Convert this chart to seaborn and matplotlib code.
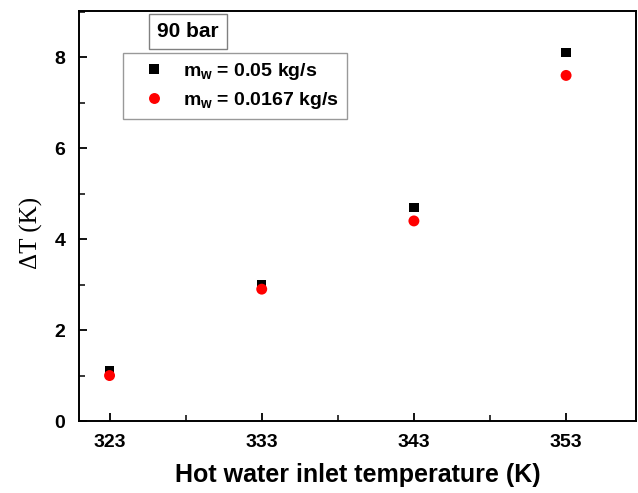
import matplotlib
matplotlib.use("Agg")
import matplotlib.pyplot as plt
import seaborn as sns
import pandas as pd
from matplotlib.ticker import MultipleLocator, FixedLocator

temps = [323, 333, 343, 353]
dT_005 = [1.1, 3.0, 4.7, 8.1]
dT_00167 = [1.0, 2.9, 4.4, 7.6]
labels = [r"$m_w$ = 0.05 kg/s", r"$m_w$ = 0.0167 kg/s"]
xticks = [323, 333, 343, 353]
yticks = [0, 2, 4, 6, 8]

sns.set_theme(style="white")
plt.rcParams['font.family'] = ['Liberation Sans', 'DejaVu Sans']
plt.rcParams['font.weight'] = 'bold'
plt.rcParams['text.color'] = 'black'
plt.rcParams['axes.labelcolor'] = 'black'
plt.rcParams['xtick.color'] = 'black'
plt.rcParams['ytick.color'] = 'black'
plt.rcParams['mathtext.fontset'] = 'custom'
plt.rcParams['mathtext.rm'] = 'Liberation Sans:bold'
plt.rcParams['mathtext.it'] = 'Liberation Sans:bold'
plt.rcParams['mathtext.bf'] = 'Liberation Sans:bold'

df = pd.DataFrame({
    "T": temps + temps,
    "dT": dT_005 + dT_00167,
    "series": [labels[0]] * len(temps) + [labels[1]] * len(temps),
})

fig = plt.figure(figsize=(6.38, 4.93), dpi=100)
ax = fig.add_axes([0.124, 0.146, 0.873, 0.832])

sns.scatterplot(data=df, x="T", y="dT", hue="series", style="series", size="series",
                palette={labels[0]: "black", labels[1]: "#ff0000"},
                markers={labels[0]: "s", labels[1]: "o"},
                sizes={labels[0]: 44, labels[1]: 62},
                linewidth=0, ax=ax, legend=True)

ax.set_xlim(321, 357.6)
ax.set_ylim(0, 9.02)
ax.set_xticks(xticks)
ax.set_yticks(yticks)
ax.xaxis.set_minor_locator(FixedLocator([328, 338, 348]))
ax.yaxis.set_minor_locator(MultipleLocator(1))
ax.tick_params(which='major', direction='in', length=6, width=1.3, labelsize=14, pad=9)
ax.tick_params(axis='y', which='major', pad=10)
ax.tick_params(which='minor', direction='in', length=4, width=1.1)
ax.tick_params(top=False, right=False, bottom=True, left=True, which='both')
for lab in ax.get_xticklabels() + ax.get_yticklabels():
    lab.set_fontweight('bold')
for sp in ax.spines.values():
    sp.set_linewidth(1.4)
    sp.set_color('black')

ax.set_xlabel("Hot water inlet temperature (K)", fontsize=18, fontweight='bold', labelpad=9)
ax.set_ylabel("ΔT (K)", fontsize=18, fontweight='normal',
              family=['Liberation Serif', 'DejaVu Serif'])
ax.yaxis.set_label_coords(-0.064, 0.459)

leg = ax.legend(loc='upper left', bbox_to_anchor=(0.079, 0.898), borderaxespad=0,
                fontsize=14, frameon=True, fancybox=False, edgecolor='#808080',
                handlelength=2.3, handletextpad=0.35, borderpad=0.42, labelspacing=0.42)
leg.get_frame().set_linewidth(1.0)
for t in leg.get_texts():
    t.set_fontweight('bold')

ax.text(0.195, 0.95, "90 bar", transform=ax.transAxes, ha='center', va='center',
        fontsize=15, fontweight='bold',
        bbox=dict(boxstyle='square,pad=0.4', facecolor='white', edgecolor='#808080', linewidth=1.0))

fig.savefig("out.png", dpi=100)
